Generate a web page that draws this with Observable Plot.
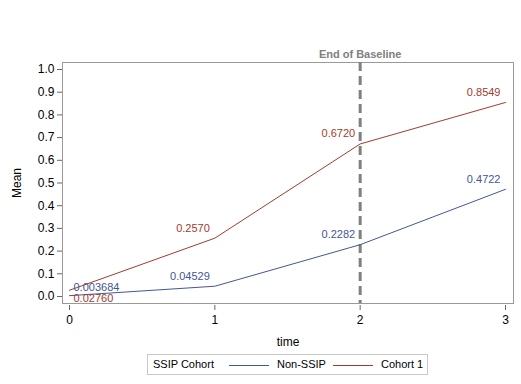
<!DOCTYPE html>
<html><head><meta charset="utf-8">
<script src="https://cdn.jsdelivr.net/npm/d3@7"></script>
<script src="https://cdn.jsdelivr.net/npm/@observablehq/plot@0.6"></script>
<style>
body{margin:0;background:#fff;font-family:"Liberation Sans",Arial,sans-serif;}
#legend{position:absolute;left:147px;top:354px;width:279px;height:19px;border:1px solid #c8c8c8;font-size:11px;color:#000;white-space:nowrap;}
#legend span{position:absolute;top:3px;white-space:nowrap;}
#legend i{position:absolute;top:10px;height:1px;width:40px;}
</style></head><body>
<div id="chart"></div>
<div id="legend">
<span style="left:5px">SSIP Cohort</span>
<i style="left:81px;background:#445694"></i>
<span style="left:129px">Non-SSIP</span>
<i style="left:185px;background:#A23A2E"></i>
<span style="left:233px">Cohort 1</span>
</div>
<script>
const times = [0, 1, 2, 3];
const nonSSIP = [0.003684, 0.04529, 0.2282, 0.4722];
const cohort1 = [0.02760, 0.2570, 0.6720, 0.8549];
const nonSSIPLabels = ["0.003684", "0.04529", "0.2282", "0.4722"];
const cohort1Labels = ["0.02760", "0.2570", "0.6720", "0.8549"];
const yTicks = [0, 0.1, 0.2, 0.3, 0.4, 0.5, 0.6, 0.7, 0.8, 0.9, 1.0];
const baselineTime = 2;

const blue = "#445694", red = "#A23A2E";
const data = [];
times.forEach((t, i) => {
  data.push({time: t, mean: nonSSIP[i], label: nonSSIPLabels[i], group: "Non-SSIP"});
  data.push({time: t, mean: cohort1[i], label: cohort1Labels[i], group: "Cohort 1"});
});
const colorOf = d => d.group === "Non-SSIP" ? blue : red;

const chart = Plot.plot({
  width: 521,
  height: 350,
  marginLeft: 62,
  marginRight: 8,
  marginTop: 62,
  marginBottom: 47,
  style: {fontFamily: "Liberation Sans, Arial, sans-serif", fontSize: "12px", background: "#fff"},
  x: {domain: [0, 3], insetLeft: 7, insetRight: 8},
  y: {domain: [0, 1], insetTop: 7, insetBottom: 7},
  marks: [
    Plot.frame({stroke: "#999"}),
    Plot.ruleX([baselineTime], {stroke: "#808080", strokeWidth: 3, strokeDasharray: "9,5"}),
    Plot.text([baselineTime], {x: d => d, frameAnchor: "top", dy: -12, text: () => "End of Baseline", fill: "#808080", fontWeight: "bold", fontSize: 11}),
    Plot.line(data, {x: "time", y: "mean", z: "group", stroke: colorOf, strokeWidth: 1}),
    Plot.text(data.filter(d => d.time === 0 && d.group === "Non-SSIP"), {x: "time", y: "mean", text: "label", fill: colorOf, textAnchor: "start", dx: 4, dy: -8, fontSize: 11}),
    Plot.text(data.filter(d => d.time === 0 && d.group === "Cohort 1"), {x: "time", y: "mean", text: "label", fill: colorOf, textAnchor: "start", dx: 4, dy: 8, fontSize: 11}),
    Plot.text(data.filter(d => d.time !== 0), {x: "time", y: "mean", text: "label", fill: colorOf, textAnchor: "end", dx: -5, dy: -10, fontSize: 11}),
    Plot.axisY({ticks: yTicks, tickFormat: d3.format(".1f"), tickSize: 5, tickPadding: 3, label: "Mean", labelAnchor: "center", labelArrow: "none", labelOffset: 50, fill: "#000", stroke: "#666", fontSize: 12}),
    Plot.axisX({ticks: times, tickFormat: d3.format("d"), tickSize: 5, tickPadding: 5, dy: 2, label: "time", labelAnchor: "center", labelArrow: "none", labelOffset: 42, fill: "#000", stroke: "#666", fontSize: 12})
  ]
});
document.getElementById("chart").appendChild(chart);
</script>
</body></html>
